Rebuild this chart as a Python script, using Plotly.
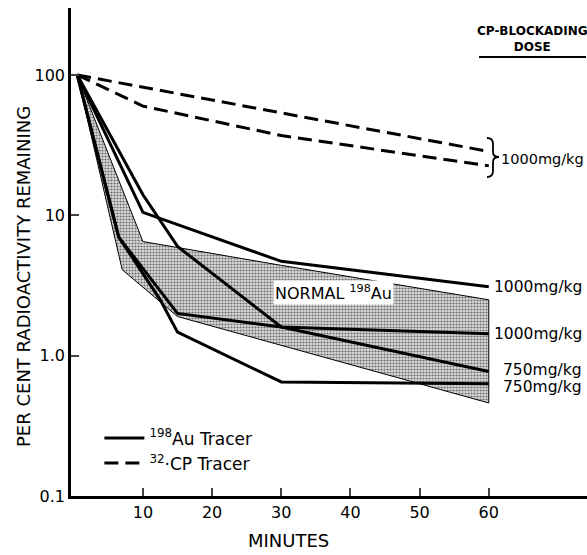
import math
import plotly.graph_objects as go

# ---- data ----
# 32CP tracer, 1000 mg/kg (dashed)
t_cp_a = [0.5, 10, 30, 60]
cp_a = [100, 82, 54, 28.5]
t_cp_b = [0.5, 10, 30, 60]
cp_b = [100, 60, 37, 22.5]

# 198Au tracer (solid)
t_au_a = [0.5, 10, 30, 60]
au_a = [100, 10.5, 4.7, 3.1]          # 1000 mg/kg
t_au_b = [0.5, 10, 15, 30, 60]
au_b = [100, 14, 6.0, 1.6, 1.43]      # 1000 mg/kg
t_au_c = [0.5, 6.5, 15, 30, 60]
au_c = [100, 7.0, 2.0, 1.6, 0.77]     # 750 mg/kg
t_au_d = [0.5, 6.5, 12.5, 15, 30, 60]
au_d = [100, 7.0, 2.5, 1.47, 0.65, 0.63]  # 750 mg/kg

# Normal 198Au band
t_band_hi = [0.5, 10, 30, 60]
band_hi = [100, 6.5, 4.4, 2.5]
t_band_lo = [0.5, 7, 15, 30, 60]
band_lo = [100, 4.1, 1.9, 1.18, 0.46]

dose_labels = ["1000mg/kg", "1000mg/kg", "750mg/kg", "750mg/kg"]
cp_label = "1000mg/kg"
x_ticks = [10, 20, 30, 40, 50, 60]
y_ticks = [0.1, 1, 10, 100]
y_ticktext = ["0.1", "1.0", "10", "100"]

FONT = "DejaVu Sans"
BLACK = "black"
# plot-area geometry (pixels) used for paper-coordinate decorations
L, R, T, B = 71, 587, 8, 496


def px(xp):
    return (xp - L) / (R - L)


def py(yp):
    return (B - yp) / (B - T)


fig = go.Figure()

# band polygon
fig.add_trace(go.Scatter(
    x=t_band_hi + t_band_lo[::-1], y=band_hi + band_lo[::-1],
    mode="lines", fill="toself",
    line=dict(color=BLACK, width=1),
    fillcolor="rgba(0,0,0,0)",
    fillpattern=dict(shape=".", fgcolor="#000000", bgcolor="#dcdcdc", size=3, solidity=0.42),
    showlegend=False, hoverinfo="skip"))

solid = [(t_au_a, au_a), (t_au_b, au_b), (t_au_c, au_c), (t_au_d, au_d)]
for i, (tx, vy) in enumerate(solid):
    fig.add_trace(go.Scatter(
        x=tx, y=vy, mode="lines", line=dict(color=BLACK, width=3),
        name="<sup>198</sup>Au Tracer", showlegend=(i == 0)))

for i, (tx, vy) in enumerate([(t_cp_a, cp_a), (t_cp_b, cp_b)]):
    fig.add_trace(go.Scatter(
        x=tx, y=vy, mode="lines",
        line=dict(color=BLACK, width=3, dash="14px,7px"),
        name="<sup>32</sup>·CP Tracer", showlegend=(i == 0)))

ann = []
# right-hand dose labels
for (tx, vy), lab, dx, dy in zip(solid, dose_labels, [3, 3, 12, 12], [0, 0, 2, -3]):
    ann.append(dict(x=tx[-1], y=math.log10(vy[-1]), xref="x", yref="y", text=lab,
                    showarrow=False, xanchor="left", yanchor="middle", xshift=dx, yshift=dy,
                    font=dict(family=FONT, size=15.5, color=BLACK)))
mid_cp = math.log10(math.sqrt(cp_a[-1] * cp_b[-1]))
ann.append(dict(x=t_cp_a[-1], y=mid_cp, xref="x", yref="y", text=cp_label, showarrow=False,
                xanchor="left", yanchor="middle", xshift=10,
                font=dict(family=FONT, size=14.5, color=BLACK)))
# band label
ann.append(dict(x=37.5, y=math.log10(2.83), xref="x", yref="y",
                text="NORMAL <sup>198</sup>Au", showarrow=False, bgcolor="white",
                borderpad=1, xanchor="center", yanchor="middle",
                font=dict(family=FONT, size=16, color=BLACK)))
# header
ann.append(dict(x=px(532), y=py(39), xref="paper", yref="paper",
                text="<b>CP-BLOCKADING</b><br><b>DOSE</b>", showarrow=False,
                xanchor="center", yanchor="middle",
                font=dict(family=FONT, size=12, color=BLACK)))
# axis titles
ann.append(dict(x=px(288), y=py(540), xref="paper", yref="paper",
                text="MINUTES", showarrow=False, xanchor="center", yanchor="middle",
                font=dict(family=FONT, size=18, color=BLACK)))
ann.append(dict(x=px(23), y=py(277), xref="paper", yref="paper",
                text="PER CENT RADIOACTIVITY REMAINING", textangle=-90, showarrow=False,
                xanchor="center", yanchor="middle",
                font=dict(family=FONT, size=18, color=BLACK)))
fig.update_layout(annotations=ann)

# header underline
fig.add_shape(type="line", xref="paper", yref="paper",
              x0=px(479), x1=px(586), y0=py(57), y1=py(57),
              line=dict(color=BLACK, width=2))

# brace "}" grouping the two dashed curves
bx0, bx1, bx2 = 487, 493, 499
by = [138, 144, 152, 157, 162, 171, 177]
path = (f"M {px(bx0)},{py(by[0])} Q {px(bx1)},{py(by[0])} {px(bx1)},{py(by[1])} "
        f"L {px(bx1)},{py(by[2])} Q {px(bx1)},{py(by[3])} {px(bx2)},{py(by[3])} "
        f"Q {px(bx1)},{py(by[3])} {px(bx1)},{py(by[4])} "
        f"L {px(bx1)},{py(by[5])} Q {px(bx1)},{py(by[6])} {px(bx0)},{py(by[6])}")
fig.add_shape(type="path", xref="paper", yref="paper", path=path,
              line=dict(color=BLACK, width=1.8))

fig.update_layout(
    width=587, height=555,
    margin=dict(l=L, r=587 - R, t=T, b=555 - B, autoexpand=False),
    paper_bgcolor="white", plot_bgcolor="white",
    showlegend=True,
    legend=dict(x=0.055, y=0.155, xanchor="left", yanchor="top",
                bgcolor="rgba(0,0,0,0)", font=dict(family=FONT, size=17, color=BLACK),
                itemwidth=40, tracegroupgap=0),
    xaxis=dict(range=[-0.4, 74.2], tickvals=x_ticks, ticks="inside", ticklen=8, tickwidth=2,
               showline=True, linecolor=BLACK, linewidth=2.5, showgrid=False, zeroline=False,
               tickfont=dict(family=FONT, size=16, color=BLACK)),
    yaxis=dict(type="log", range=[-1, math.log10(300)], tickvals=y_ticks, ticktext=y_ticktext,
               ticks="inside", ticklen=8, tickwidth=2,
               showline=True, linecolor=BLACK, linewidth=2.5, showgrid=False, zeroline=False,
               tickfont=dict(family=FONT, size=16, color=BLACK)),
)

fig.write_html("out.html", config={"displayModeBar": False},
               post_script="document.body.style.margin='0px';")
